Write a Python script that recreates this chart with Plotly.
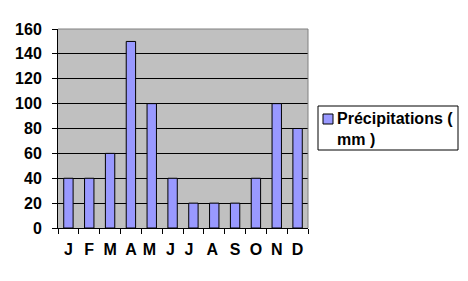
import plotly.graph_objects as go

months = ["J", "F", "M", "A", "M ", "J ", "J  ", "A ", "S", "O", "N", "D"]
precip = [40, 40, 60, 150, 100, 40, 20, 20, 20, 40, 100, 80]
series_name = "Précipitations (<br>mm )"
y_ticks = [0, 20, 40, 60, 80, 100, 120, 140, 160]

FAM = "Liberation Sans, Arial"
bold = dict(family=FAM, size=16, color="black", weight="bold")
BAR_COLOR = "#9999FF"

L, R, T, B = 58, 308, 29, 228
W, H = 468, 281


def px(x):
    return (x - L) / (R - L)


def py(y):
    return 1 - (y - T) / (B - T)


fig = go.Figure()
fig.add_trace(go.Bar(
    x=months, y=precip, name=series_name,
    marker=dict(color=BAR_COLOR, line=dict(color="black", width=1)),
    width=0.45, showlegend=False,
))

fig.update_layout(
    width=W, height=H,
    margin=dict(l=L, r=W - R, t=T, b=H - B, autoexpand=False),
    paper_bgcolor="white", plot_bgcolor="#C0C0C0",
    font=bold,
    showlegend=False,
    xaxis=dict(
        type="category", tickson="boundaries", ticks="outside", ticklen=5,
        tickcolor="black", showline=True, linecolor="black", linewidth=1,
        showgrid=False, tickangle=0, tickfont=bold, ticklabelstandoff=7,
    ),
    yaxis=dict(
        range=[0, 160], tickvals=y_ticks, ticks="outside", ticklen=5,
        tickcolor="black", showline=True, linecolor="black", linewidth=1,
        showgrid=True, gridcolor="black", gridwidth=1, zeroline=False,
        tickfont=bold, ticklabelstandoff=7,
    ),
)
# plot frame top/right (grey)
fig.add_shape(type="line", xref="paper", yref="paper", x0=0, x1=1, y0=1, y1=1,
              line=dict(color="#808080", width=1), layer="above")
fig.add_shape(type="line", xref="paper", yref="paper", x0=1, x1=1, y0=0, y1=1,
              line=dict(color="#808080", width=1), layer="above")
# legend box
fig.add_shape(type="rect", xref="paper", yref="paper",
              x0=px(318), x1=px(458), y0=py(106), y1=py(150),
              line=dict(color="black", width=1), fillcolor="white", layer="above")
fig.add_shape(type="rect", xref="paper", yref="paper",
              x0=px(323), x1=px(333), y0=py(114), y1=py(124),
              line=dict(color="black", width=1), fillcolor=BAR_COLOR, layer="above")
fig.add_annotation(xref="paper", yref="paper", x=px(335), y=py(129),
                   xanchor="left", yanchor="middle", align="left",
                   text=series_name, showarrow=False, font=bold)
fig.write_html("out.html")
